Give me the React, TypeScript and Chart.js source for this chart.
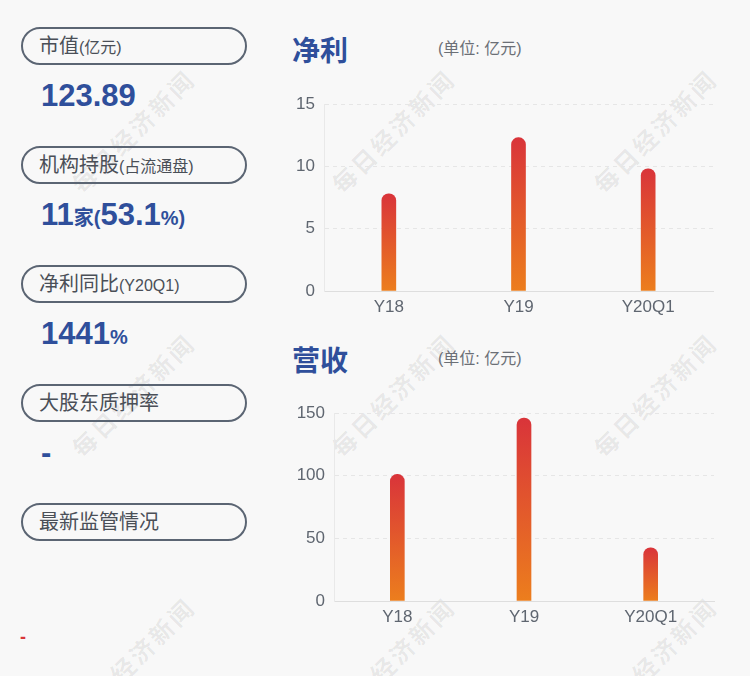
import React, { useEffect, useRef } from "react";
import { Chart, registerables } from "chart.js";

Chart.register(...registerables);

const categories = ["Y18", "Y19", "Y20Q1"];
const profitValues = [7.8, 12.3, 9.8];
const revenueValues = [101, 146, 42.5];
const profitAxis = { max: 15, step: 5 };
const revenueAxis = { max: 150, step: 50 };

const FONT = '"Liberation Sans", "Noto Sans CJK SC", sans-serif';
const BLUE = "#2f4f9b";
const BG = "#f8f8f8";

function gradientFill(ctx: any) {
  if (ctx.type !== "data") return "#e0552a";
  const chart = ctx.chart;
  if (!chart.chartArea) return "#e0552a";
  const y = chart.scales.y;
  const top = y.getPixelForValue(ctx.raw);
  const bottom = y.getPixelForValue(0);
  const g = chart.ctx.createLinearGradient(0, top, 0, bottom);
  g.addColorStop(0, "#d9343a");
  g.addColorStop(1, "#ec7e1d");
  return g;
}

function BarChart(props: {
  values: number[];
  max: number;
  step: number;
  yWidth: number;
  padTop: number;
  padRight: number;
  left: number;
  top: number;
}) {
  const ref = useRef<HTMLCanvasElement | null>(null);
  useEffect(() => {
    if (!ref.current) return;
    const chart = new Chart(ref.current, {
      type: "bar",
      data: {
        labels: categories,
        datasets: [
          {
            data: props.values,
            backgroundColor: gradientFill as any,
            barThickness: 14,
            borderRadius: 7,
            borderSkipped: "start",
          },
        ],
      },
      options: {
        responsive: false,
        animation: false,
        events: [],
        layout: { padding: { left: 0, right: props.padRight, top: props.padTop, bottom: 0 } },
        plugins: { legend: { display: false }, tooltip: { enabled: false } },
        scales: {
          x: {
            grid: { color: "transparent", drawTicks: false },
            border: { display: true, color: "#dedede", width: 1 },
            ticks: { color: "#5f6670", font: { size: 17, family: FONT }, padding: 6 },
            afterFit: (s: any) => {
              s.height = 29;
              s.paddingLeft = 0;
              s.paddingRight = 0;
            },
          },
          y: {
            min: 0,
            max: props.max,
            grid: { color: "#e6e6e6", drawTicks: false, lineWidth: 1 },
            border: { display: true, color: "#e9e9e9", dash: [4, 4] },
            ticks: {
              stepSize: props.step,
              color: "#5f6670",
              font: { size: 17, family: FONT },
              padding: 9,
            },
            afterFit: (s: any) => {
              s.width = props.yWidth;
              s.paddingTop = 0;
              s.paddingBottom = 0;
            },
          },
        },
      },
    });
    return () => chart.destroy();
  }, []);
  return (
    <canvas
      ref={ref}
      width={470}
      height={230}
      style={{ position: "absolute", left: props.left, top: props.top, width: 470, height: 230, display: "block" }}
    />
  );
}

function Pill(props: { top: number; main: string; sub?: string }) {
  return (
    <div
      style={{
        position: "absolute",
        left: 21,
        top: props.top,
        width: 226,
        height: 38,
        boxSizing: "border-box",
        border: "2px solid #5b6573",
        borderRadius: 19,
        paddingLeft: 16,
        lineHeight: "34px",
        fontFamily: FONT,
        color: "#4a4f57",
        fontSize: 20,
        whiteSpace: "nowrap",
      }}
    >
      {props.main}
      {props.sub ? <span style={{ fontSize: 16 }}>{props.sub}</span> : null}
    </div>
  );
}

function Value(props: { top: number; children: any }) {
  return (
    <div
      style={{
        position: "absolute",
        left: 41,
        top: props.top,
        lineHeight: "36px",
        fontSize: 31,
        fontWeight: "bold",
        fontFamily: FONT,
        color: BLUE,
        whiteSpace: "nowrap",
      }}
    >
      {props.children}
    </div>
  );
}

const small: React.CSSProperties = { fontSize: 20 };

const titleStyle: React.CSSProperties = {
  position: "absolute",
  left: 292,
  fontSize: 28,
  lineHeight: "30px",
  fontWeight: "bold",
  color: BLUE,
  fontFamily: '"Noto Sans CJK SC", sans-serif',
};

const unitStyle: React.CSSProperties = {
  position: "absolute",
  left: 438,
  fontSize: 16,
  lineHeight: "20px",
  color: "#6b6f76",
  whiteSpace: "nowrap",
};

export default function App() {
  const wmX = [133, 393, 655];
  const wmY = [131, 395, 659];
  return (
    <div
      style={{
        position: "absolute",
        left: 0,
        top: 0,
        width: 750,
        height: 676,
        background: BG,
        overflow: "hidden",
        fontFamily: FONT,
      }}
    >
      {wmY.map((y) =>
        wmX.map((x) => (
          <div
            key={x + "-" + y}
            style={{
              position: "absolute",
              left: x,
              top: y,
              transform: "translate(-50%, -50%) rotate(-45deg)",
              whiteSpace: "nowrap",
              fontSize: 24,
              fontWeight: "bold",
              letterSpacing: 3,
              color: "rgba(0,0,0,0.075)",
              fontFamily: '"Noto Sans CJK SC", sans-serif',
              lineHeight: "28px",
            }}
          >
            每日经济新闻
          </div>
        ))
      )}

      <Pill top={27} main="市值" sub="(亿元)" />
      <Value top={78}>123.89</Value>
      <Pill top={146} main="机构持股" sub="(占流通盘)" />
      <Value top={197}>
        11<span style={small}>家(</span>53.1<span style={small}>%)</span>
      </Value>
      <Pill top={265} main="净利同比" sub="(Y20Q1)" />
      <Value top={316}>
        1441<span style={small}>%</span>
      </Value>
      <Pill top={384} main="大股东质押率" />
      <Value top={435}>-</Value>
      <Pill top={503} main="最新监管情况" />
      <div
        style={{
          position: "absolute",
          left: 20,
          top: 627,
          fontSize: 18,
          lineHeight: "20px",
          fontWeight: "bold",
          color: "#d9363a",
        }}
      >
        -
      </div>

      <div style={{ ...titleStyle, top: 34 }}>净利</div>
      <div style={{ ...unitStyle, top: 39 }}>(单位: 亿元)</div>
      <BarChart values={profitValues} max={profitAxis.max} step={profitAxis.step} yWidth={64} padTop={14} padRight={17} left={260} top={90} />

      <div style={{ ...titleStyle, top: 344 }}>营收</div>
      <div style={{ ...unitStyle, top: 349 }}>(单位: 亿元)</div>
      <BarChart values={revenueValues} max={revenueAxis.max} step={revenueAxis.step} yWidth={74} padTop={13} padRight={16} left={260} top={400} />
    </div>
  );
}
